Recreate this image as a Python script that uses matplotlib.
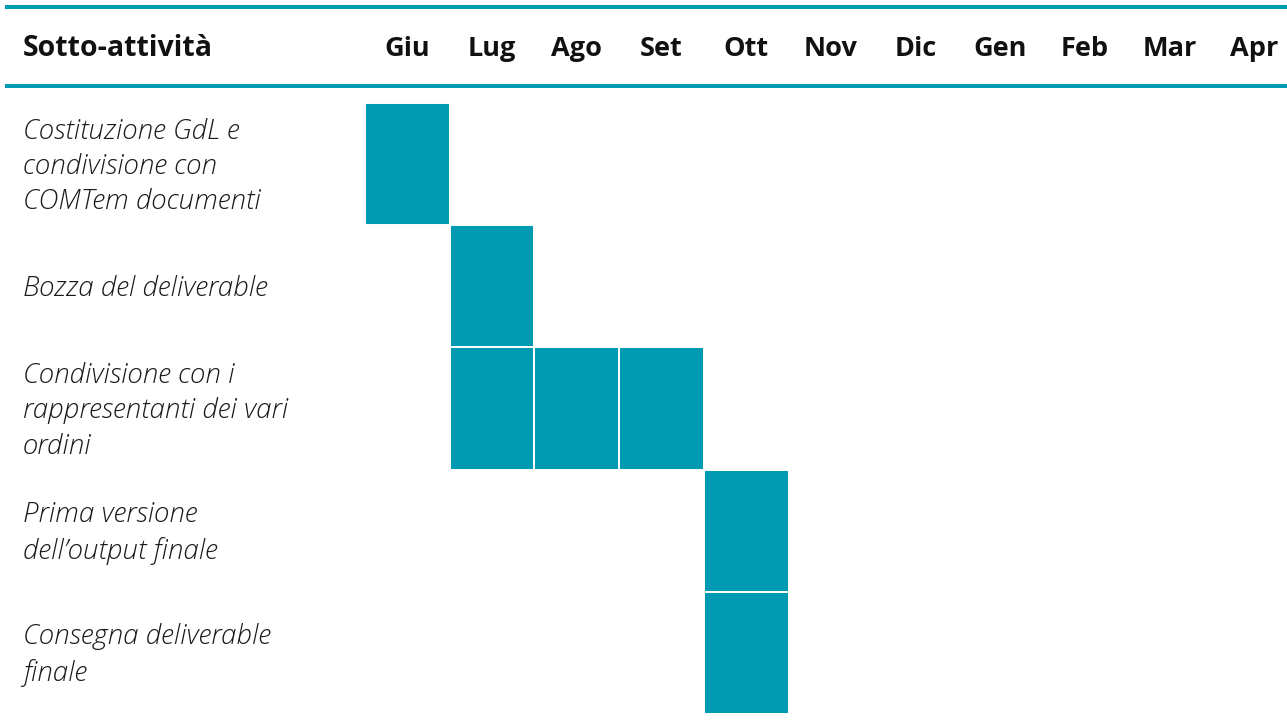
import matplotlib
matplotlib.use("Agg")
import matplotlib.pyplot as plt
from matplotlib.lines import Line2D
from matplotlib.transforms import blended_transform_factory

# data
months = ["Giu", "Lug", "Ago", "Set", "Ott", "Nov", "Dic", "Gen", "Feb", "Mar", "Apr"]
tasks = [
    "Costituzione GdL e\ncondivisione con\nCOMTem documenti",
    "Bozza del deliverable",
    "Condivisione con i\nrappresentanti dei vari\nordini",
    "Prima versione\ndell\u2019output finale",
    "Consegna deliverable\nfinale",
]
active_months = [
    ["Giu"],
    ["Lug"],
    ["Lug", "Ago", "Set"],
    ["Ott"],
    ["Ott"],
]
header_label = "Sotto-attività"

TEAL = "#009BB3"
W, H = 1287, 727
col_w = 84.7
grid_left, grid_top, grid_bottom = 365, 103, 714

plt.rcParams["font.family"] = ["Open Sans", "DejaVu Sans"]

fig = plt.figure(figsize=(W / 100, H / 100), dpi=100)
fig.patch.set_facecolor("white")

ax = fig.add_axes([grid_left / W, 1 - grid_bottom / H,
                   1 - grid_left / W, (grid_bottom - grid_top) / H])
ax.set_xlim(0, (W - grid_left) / col_w)
ax.set_ylim(len(tasks), 0)
ax.axis("off")

for row, ms in enumerate(active_months):
    for m in ms:
        ax.bar(months.index(m), 1, bottom=row, width=1, align="edge",
               color=TEAL, edgecolor="white", linewidth=1.4)

# header
trans = blended_transform_factory(ax.transData, fig.transFigure)
for i, m in enumerate(months):
    ax.text(i + 0.5, 1 - 49 / H, m, transform=trans, ha="center", va="center",
            fontsize=19.5, fontweight="bold", color="#111111", clip_on=False)
fig.text(23 / W, 1 - 49 / H, header_label, ha="left", va="center",
         fontsize=20.5, fontweight="bold", color="#111111")

# task labels
label_trans = blended_transform_factory(fig.transFigure, ax.transData)
for row, t in enumerate(tasks):
    ax.text(23 / W, row + 0.52, t, transform=label_trans, ha="left", va="center",
            fontsize=20, fontstyle="italic", fontweight="light", color="#1a1a1a",
            linespacing=1.4, clip_on=False)

# teal rules
for y in (7, 86):
    fig.add_artist(Line2D([7 / W, 1], [1 - y / H, 1 - y / H],
                          color=TEAL, linewidth=2.9))

fig.savefig("out.png", dpi=100, facecolor="white")
